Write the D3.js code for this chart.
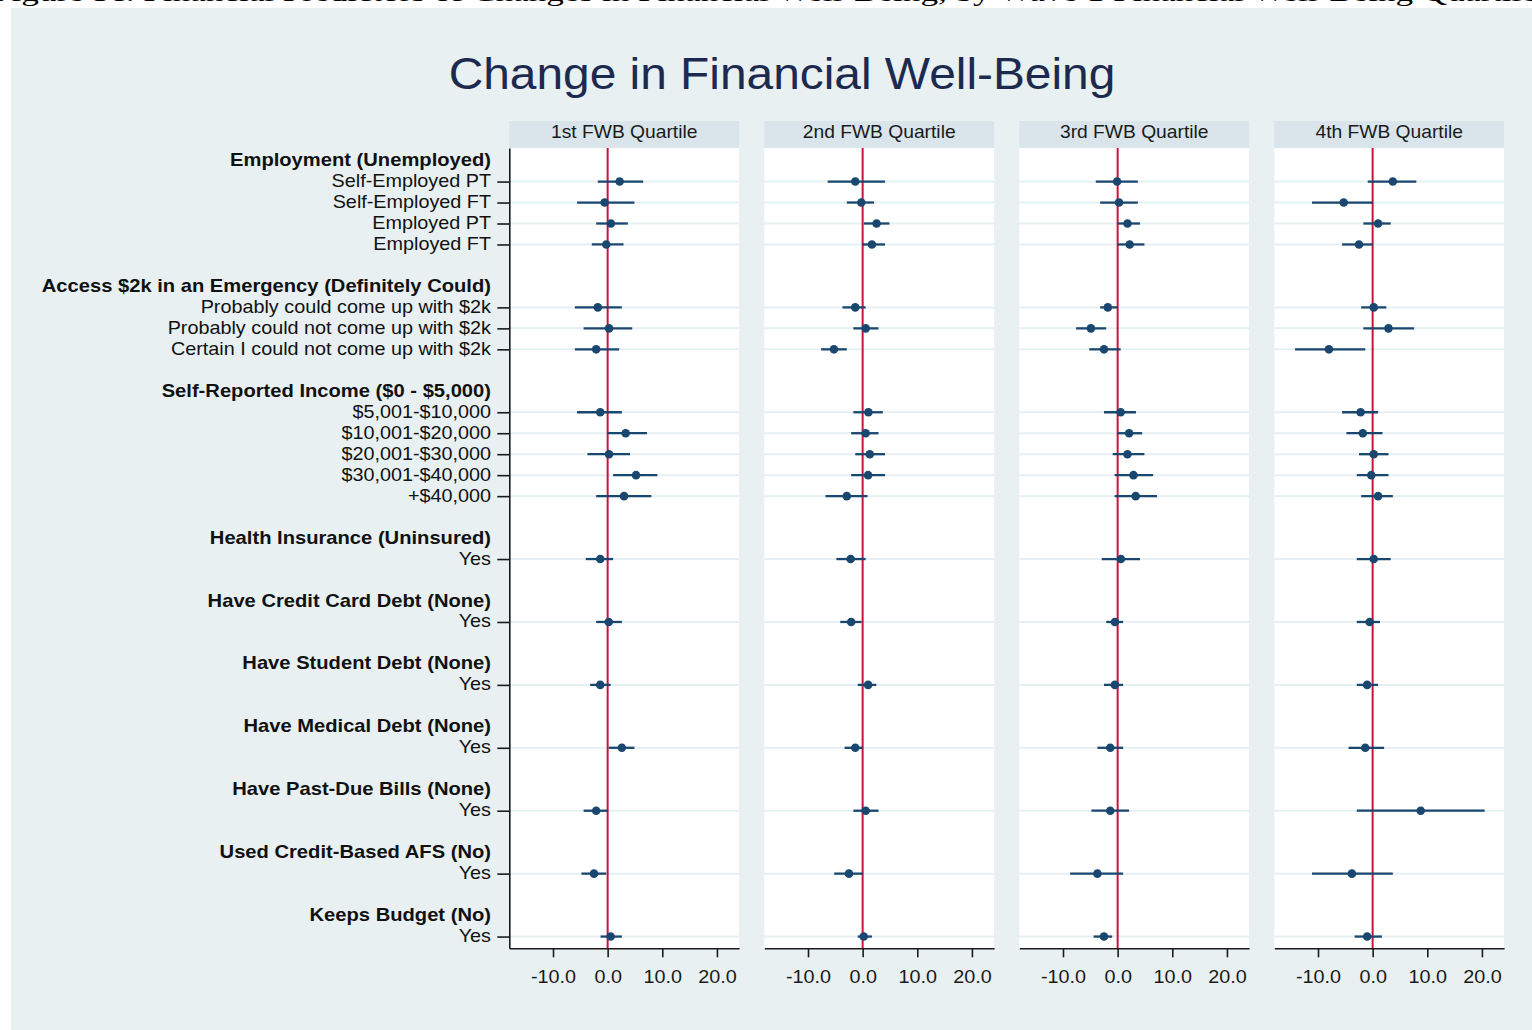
<!DOCTYPE html>
<html>
<head>
<meta charset="utf-8">
<script src="https://cdn.jsdelivr.net/npm/d3@7"></script>
<style>
  html, body { margin: 0; padding: 0; background: #ffffff; }
  svg { display: block; }
  text { font-family: "Liberation Sans", Arial, sans-serif; }
</style>
</head>
<body>
<svg id="chart" width="1532" height="1030"></svg>
<script>
// ---------------- DATA ----------------
const chartTitle = "Change in Financial Well-Being";
const captionText = "Figure 5c. Financial Predictors of Changes in Financial Well-Being, by Wave 1 Financial Well-Being Quartile";
const quartiles = ["1st FWB Quartile", "2nd FWB Quartile", "3rd FWB Quartile", "4th FWB Quartile"];

const groupHeadings = [
  "Employment (Unemployed)",
  "Access $2k in an Emergency (Definitely Could)",
  "Self-Reported Income ($0 - $5,000)",
  "Health Insurance (Uninsured)",
  "Have Credit Card Debt (None)",
  "Have Student Debt (None)",
  "Have Medical Debt (None)",
  "Have Past-Due Bills (None)",
  "Used Credit-Based AFS (No)",
  "Keeps Budget (No)"
];
const groupItems = [
  ["Self-Employed PT", "Self-Employed FT", "Employed PT", "Employed FT"],
  ["Probably could come up with $2k", "Probably could not come up with $2k", "Certain I could not come up with $2k"],
  ["$5,001-$10,000", "$10,001-$20,000", "$20,001-$30,000", "$30,001-$40,000", "+$40,000"],
  ["Yes"], ["Yes"], ["Yes"], ["Yes"], ["Yes"], ["Yes"], ["Yes"]
];

// estimates and 95% CI bounds, one value per item row (19 rows), per quartile
const q1Est = [2.2, -0.55, 0.6, -0.25, -1.8, 0.25, -2.1, -1.35, 3.3, 0.25, 5.2, 3.0, -1.35, 0.2, -1.35, 2.6, -2.1, -2.5, 0.55];
const q1Lo  = [-1.8, -5.6, -2.1, -2.9, -6.0, -4.4, -6.0, -5.6, -0.1, -3.7, 1.0, -2.1, -4.0, -2.1, -3.2, 0.2, -4.4, -4.8, -1.3];
const q1Hi  = [6.5, 4.9, 3.7, 2.9, 2.6, 4.5, 2.1, 2.6, 7.2, 4.1, 9.1, 8.0, 1.0, 2.6, 0.55, 4.9, 0.0, -0.25, 2.6];

const q2Est = [-1.35, -0.25, 2.55, 1.7, -1.35, 0.55, -5.25, 1.05, 0.55, 1.3, 1.0, -2.9, -2.2, -2.1, 1.0, -1.35, 0.55, -2.5, 0.2];
const q2Lo  = [-6.4, -2.9, 0.25, -0.05, -3.7, -1.7, -7.6, -1.7, -2.1, -1.35, -2.1, -6.8, -4.8, -4.1, -0.9, -3.3, -1.7, -5.2, -0.9];
const q2Hi  = [4.1, 2.1, 4.9, 4.1, 0.55, 2.9, -2.9, 3.7, 2.9, 4.1, 4.1, 0.9, 0.55, -0.2, 2.5, 0.0, 2.9, 0.0, 1.7];

const q3Est = [-0.1, 0.25, 1.8, 2.2, -1.8, -4.9, -2.5, 0.55, 2.1, 1.8, 2.9, 3.3, 0.6, -0.5, -0.5, -1.35, -1.35, -3.7, -2.5];
const q3Lo  = [-4.0, -3.2, 0.0, 0.0, -3.2, -7.6, -5.2, -2.5, 0.0, -0.9, -0.55, -0.55, -2.9, -2.1, -2.5, -3.7, -4.8, -8.7, -4.4];
const q3Hi  = [3.7, 3.7, 4.1, 4.9, 0.0, -2.1, 0.55, 3.35, 4.5, 4.9, 6.5, 7.2, 4.1, 1.0, 1.0, 1.0, 2.1, 1.0, -1.0];

const q4Est = [3.7, -5.3, 1.0, -2.5, 0.2, 2.9, -8.0, -2.2, -1.8, 0.2, -0.25, 1.0, 0.2, -0.55, -1.0, -1.35, 8.8, -3.8, -1.0];
const q4Lo  = [-0.9, -11.1, -1.7, -5.6, -2.1, -1.7, -14.2, -5.6, -4.8, -2.5, -2.9, -2.1, -2.9, -2.9, -2.9, -4.4, -2.9, -11.1, -3.3];
const q4Hi  = [8.0, 0.0, 3.3, 0.0, 2.5, 7.6, -1.35, 1.0, 1.8, 2.9, 2.9, 3.7, 3.3, 1.35, 1.0, 2.1, 20.5, 3.7, 1.7];

const xTickValues = [-10, 0, 10, 20];

// ---------------- LAYOUT ----------------
const W = 1532, H = 1030;
const svg = d3.select("#chart");
const COL_BG = "#e8f0f2", COL_STRIP = "#d9e5ea", COL_GRID = "#e6eff2";
const COL_MARK = "#1a476f", COL_RED = "#c8143c", COL_AXIS = "#1a1a1a";
const SX = 1.1; // horizontal stretch of the original text rendering

const estArr = [q1Est, q2Est, q3Est, q4Est];
const loArr = [q1Lo, q2Lo, q3Lo, q4Lo];
const hiArr = [q1Hi, q2Hi, q3Hi, q4Hi];

// build row slots: heading, items, blank gap
const headingRows = [];
const itemRows = [];
let u = 0;
groupHeadings.forEach((h, gi) => {
  headingRows.push({ label: h, u: u });
  groupItems[gi].forEach((it, k) => itemRows.push({ label: it, u: u + 1 + k }));
  u += groupItems[gi].length + 2;
});

const plotTop = 148, plotBottom = 948.3;
const y = d3.scaleLinear().domain([-0.6, 37.56]).range([plotTop, plotBottom]);
const panelW = 229.8;
const panelX = d3.scaleLinear().domain([0, 3]).range([509.3, 1274.3]);
const x = d3.scaleLinear().domain([-18, 24.06]).range([0, panelW]);
const fmt = d3.formatLocale({ decimal: ".", thousands: ",", grouping: [3], currency: ["$", ""], minus: "-" }).format(".1f");

// background
svg.append("rect").attr("x", 0).attr("y", 0).attr("width", W).attr("height", H).attr("fill", "#ffffff");
svg.append("rect").attr("x", 11).attr("y", 8).attr("width", W - 11).attr("height", H - 8).attr("fill", COL_BG);

// caption at very top (cut off by the page edge in the original)
svg.append("text")
  .attr("x", -8).attr("y", 1)
  .attr("textLength", 1545).attr("lengthAdjust", "spacingAndGlyphs")
  .style("font-family", "'Liberation Serif', 'Times New Roman', serif")
  .style("font-size", "26px").attr("fill", "#000")
  .text(captionText);

// title
svg.append("text")
  .attr("transform", `translate(782,89) scale(${SX},1)`)
  .attr("text-anchor", "middle")
  .style("font-size", "43.5px")
  .attr("fill", "#1c2a50")
  .text(chartTitle);

// panels
quartiles.forEach((q, pi) => {
  const g = svg.append("g").attr("transform", `translate(${panelX(pi)},0)`);

  // strip
  g.append("rect").attr("x", 0).attr("y", 121).attr("width", panelW).attr("height", plotTop - 121)
    .attr("fill", COL_STRIP);
  g.append("text")
    .attr("transform", `translate(${panelW / 2},137.5) scale(${SX},1)`)
    .attr("text-anchor", "middle").style("font-size", "17.5px").attr("fill", "#1a1a1a")
    .text(q);

  // plot region
  g.append("rect").attr("x", 0).attr("y", plotTop).attr("width", panelW).attr("height", plotBottom - plotTop)
    .attr("fill", "#ffffff");

  // grid lines
  g.selectAll("line.grid").data(itemRows).enter().append("line")
    .attr("class", "grid")
    .attr("x1", 0).attr("x2", panelW)
    .attr("y1", d => y(d.u)).attr("y2", d => y(d.u))
    .attr("stroke", COL_GRID).attr("stroke-width", 2);

  // zero line
  g.append("line")
    .attr("x1", x(0)).attr("x2", x(0)).attr("y1", plotTop).attr("y2", plotBottom)
    .attr("stroke", COL_RED).attr("stroke-width", 2);

  const rows = itemRows.map((r, i) => ({ u: r.u, est: estArr[pi][i], lo: loArr[pi][i], hi: hiArr[pi][i] }));

  // CIs
  g.selectAll("line.ci").data(rows).enter().append("line")
    .attr("class", "ci")
    .attr("x1", d => x(d.lo)).attr("x2", d => x(d.hi))
    .attr("y1", d => y(d.u)).attr("y2", d => y(d.u))
    .attr("stroke", COL_MARK).attr("stroke-width", 2.3);

  // markers
  g.selectAll("circle.pt").data(rows).enter().append("circle")
    .attr("class", "pt")
    .attr("cx", d => x(d.est)).attr("cy", d => y(d.u)).attr("r", 4.3)
    .attr("fill", COL_MARK);

  // x axis
  const xa = g.append("g").attr("transform", `translate(0,${plotBottom})`)
    .call(d3.axisBottom(x).tickValues(xTickValues).tickSize(9).tickSizeOuter(0).tickPadding(9)
      .tickFormat(fmt));
  xa.select(".domain").attr("stroke", COL_AXIS).attr("stroke-width", 1.6);
  xa.selectAll(".tick line").attr("stroke", COL_AXIS).attr("stroke-width", 1.6);
  xa.selectAll(".tick text")
    .attr("fill", "#1a1a1a").style("font-size", "18px")
    .attr("transform", `scale(${SX},1)`)
    .attr("x", 0).attr("y", 22).attr("dy", "0.71em");

  // y axis (first panel only)
  if (pi === 0) {
    const ya = g.append("g")
      .call(d3.axisLeft(y).tickValues(itemRows.map(d => d.u)).tickSize(12).tickSizeOuter(0).tickFormat(""));
    ya.select(".domain").attr("stroke", COL_AXIS).attr("stroke-width", 1.6);
    ya.selectAll(".tick line").attr("stroke", COL_AXIS).attr("stroke-width", 1.6);
  }
});

// y labels
const labelX = 491;
svg.append("g").selectAll("text").data(itemRows).enter().append("text")
  .attr("transform", d => `translate(${labelX},${y(d.u) + 5.5}) scale(${SX},1)`)
  .attr("text-anchor", "end").style("font-size", "18px").attr("fill", "#111")
  .text(d => d.label);
svg.append("g").selectAll("text").data(headingRows).enter().append("text")
  .attr("transform", d => `translate(${labelX},${y(d.u) + 5.5}) scale(1.12,1)`)
  .attr("text-anchor", "end").style("font-size", "18px").style("font-weight", "bold").attr("fill", "#111")
  .text(d => d.label);
</script>
</body>
</html>
